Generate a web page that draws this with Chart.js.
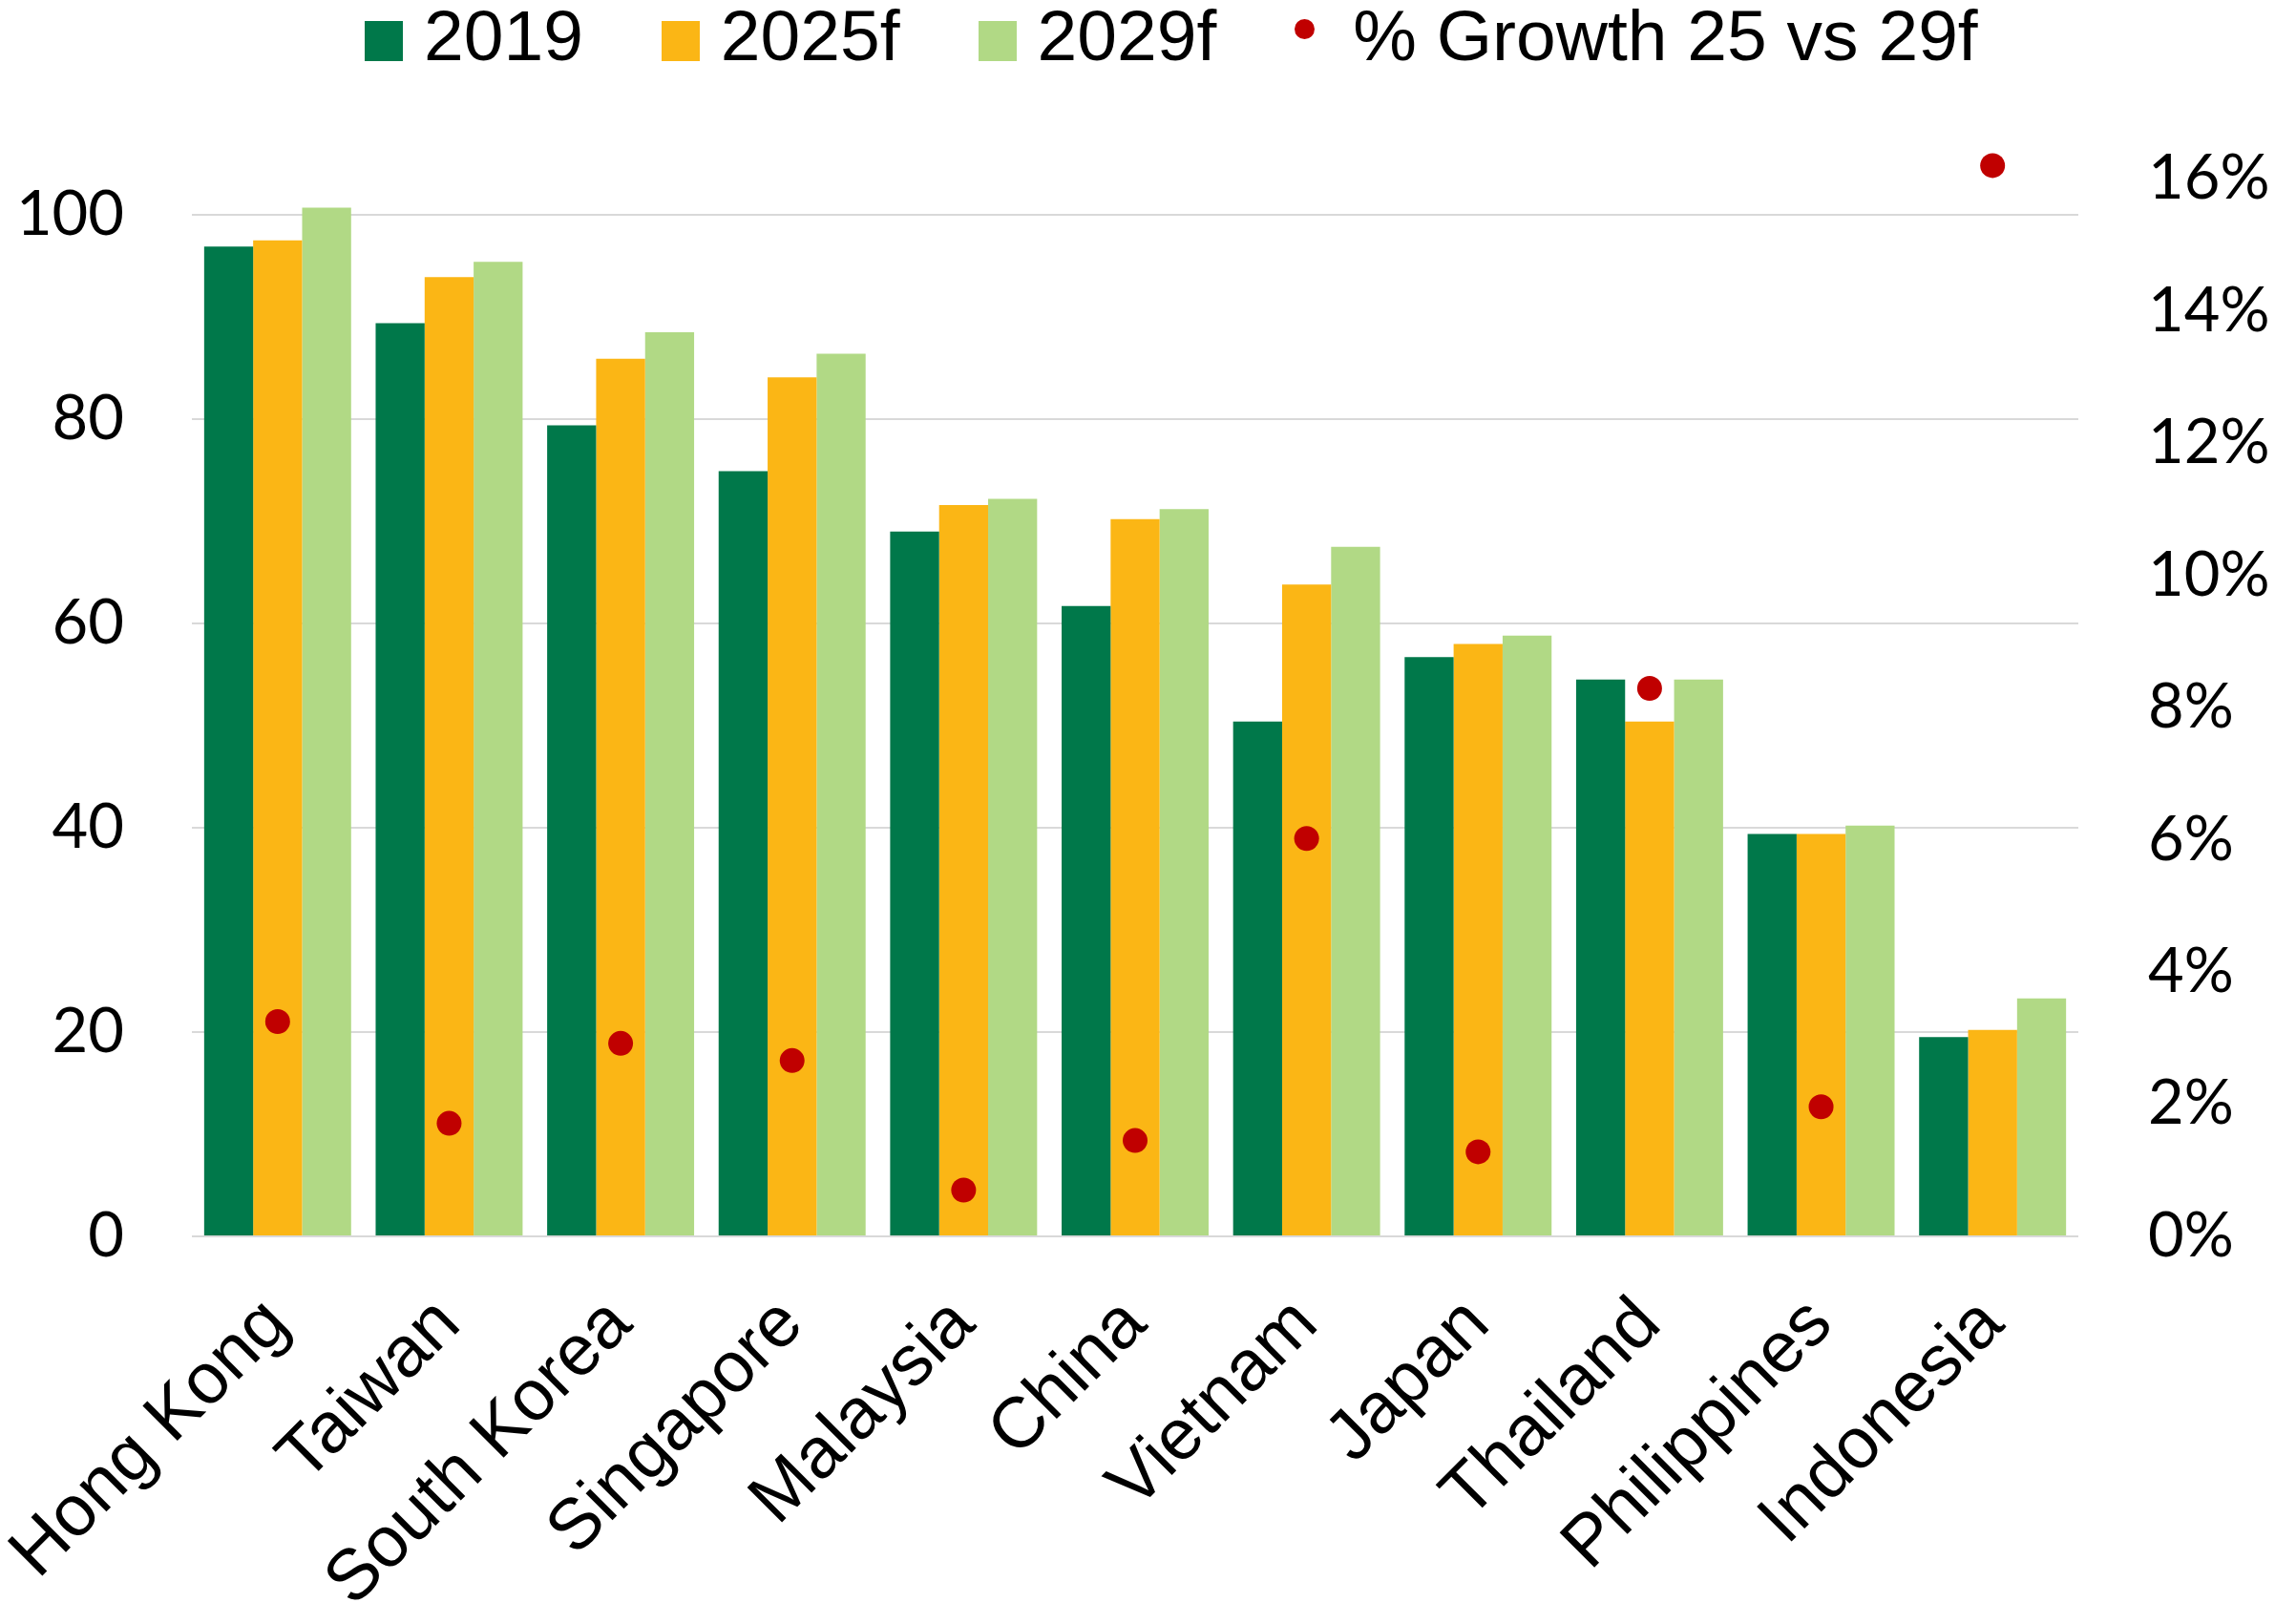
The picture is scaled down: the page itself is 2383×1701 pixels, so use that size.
<!DOCTYPE html>
<html>
<head>
<meta charset="utf-8">
<title>Growth 2019 / 2025f / 2029f</title>
<script src="https://cdn.jsdelivr.net/npm/chart.js@4.4.1/dist/chart.umd.min.js"></script>
<style>
  html, body { margin: 0; padding: 0; background: #fff; }
  #wrap { position: relative; width: 2383px; height: 1701px; }
  #legend {
    position: absolute; left: 382px; top: 0;
    display: flex; align-items: flex-start;
    font-family: 'Liberation Sans', Arial, sans-serif; font-size: 75px; line-height: 75px; color: #000;
  }
  .item { display: flex; align-items: flex-start; margin-right: 82px; }
  .item:last-child { margin-right: 0; }
  .sq { width: 40px; height: 42px; margin-top: 22px; margin-right: 22px; }
  .dot { width: 21px; height: 21px; border-radius: 50%; margin-top: 20px; margin-right: 40px; }
</style>
</head>
<body>
<div id="wrap">
  <canvas id="chart" width="2383" height="1701"></canvas>
  <div id="legend"></div>
</div>
<script>
  // Categories and series
  const countries = ['Hong Kong', 'Taiwan', 'South Korea', 'Singapore', 'Malaysia', 'China',
                     'Vietnam', 'Japan', 'Thailand', 'Philippines', 'Indonesia'];
  const values2019  = [96.9, 89.4, 79.4, 74.9, 69.0, 61.7, 50.4, 56.7, 54.5, 39.4, 19.5];
  const values2025f = [97.5, 93.9, 85.9, 84.1, 71.6, 70.2, 63.8, 58.0, 50.4, 39.4, 20.2];
  const values2029f = [100.7, 95.4, 88.5, 86.4, 72.2, 71.2, 67.5, 58.8, 54.5, 40.2, 23.3];
  const growthPct   = [3.25, 1.71, 2.92, 2.66, 0.70, 1.45, 6.02, 1.28, 8.29, 1.96, 16.2];

  const leftTicks  = [0, 20, 40, 60, 80, 100];
  const rightTicks = [0, 2, 4, 6, 8, 10, 12, 14, 16];

  const COLORS = {
    y2019: '#00784A',
    y2025: '#FBB615',
    y2029: '#B1D985',
    growth: '#C00000',
    grid: '#D9D9D9'
  };

  const tickFont = { family: 'Lato, "Open Sans", sans-serif', size: 65 };
  const catFont  = { family: '"Liberation Sans", Arial, sans-serif', size: 75 };

  const datasets = [
    { type: 'bar', label: '2019',  data: values2019,  backgroundColor: COLORS.y2019, order: 1 },
    { type: 'bar', label: '2025f', data: values2025f, backgroundColor: COLORS.y2025, order: 1 },
    { type: 'bar', label: '2029f', data: values2029f, backgroundColor: COLORS.y2029, order: 1 },
    {
      type: 'line', label: '% Growth 25 vs 29f', data: growthPct, yAxisID: 'y1',
      showLine: false, pointRadius: 13, pointHoverRadius: 13, pointBorderWidth: 0,
      pointBackgroundColor: COLORS.growth, borderColor: COLORS.growth, order: 0
    }
  ];

  datasets.forEach(ds => {
    if (ds.type === 'bar') {
      ds.categoryPercentage = 0.857;
      ds.barPercentage = 1.0;
      ds.borderWidth = 0;
      ds.yAxisID = 'y';
    }
  });

  // HTML legend
  const legend = document.getElementById('legend');
  datasets.forEach(ds => {
    const item = document.createElement('div');
    item.className = 'item';
    const mark = document.createElement('div');
    mark.className = ds.type === 'bar' ? 'sq' : 'dot';
    mark.style.background = ds.type === 'bar' ? ds.backgroundColor : ds.pointBackgroundColor;
    const txt = document.createElement('span');
    txt.textContent = ds.label;
    item.appendChild(mark);
    item.appendChild(txt);
    legend.appendChild(item);
  });

  new Chart(document.getElementById('chart'), {
    data: { labels: countries, datasets: datasets },
    options: {
      responsive: false,
      animation: false,
      layout: { padding: { top: 118, left: 0, right: 0, bottom: 0 } },
      plugins: {
        legend: { display: false },
        tooltip: { enabled: false }
      },
      scales: {
        x: {
          type: 'category',
          offset: true,
          grid: { display: false, drawTicks: false },
          border: { display: false },
          ticks: {
            font: catFont, color: '#000',
            minRotation: 45, maxRotation: 45, autoSkip: false, padding: 48
          },
          afterFit: function(scale) {
            // labels may hang past the plot edges, keep the plot where it is
            scale.height = 406;
            scale.paddingLeft = 0;
            scale.paddingRight = 0;
          }
        },
        y: {
          position: 'left',
          min: 0, max: 110,
          grid: { color: COLORS.grid, lineWidth: 2, drawTicks: false },
          border: { display: false },
          ticks: { font: tickFont, color: '#000', padding: 71, stepSize: 20 },
          afterBuildTicks: function(scale) {
            scale.ticks = leftTicks.map(v => ({ value: v }));
          },
          afterFit: function(scale) { scale.width = 201; }
        },
        y1: {
          position: 'right',
          min: 0, max: 17,
          grid: { display: false, drawTicks: false },
          border: { display: false },
          ticks: {
            font: tickFont, color: '#000', padding: 73, stepSize: 2,
            callback: function(v) { return v + '%'; }
          },
          afterBuildTicks: function(scale) {
            scale.ticks = rightTicks.map(v => ({ value: v }));
          },
          afterFit: function(scale) { scale.width = 206; }
        }
      }
    }
  });
</script>
</body>
</html>
